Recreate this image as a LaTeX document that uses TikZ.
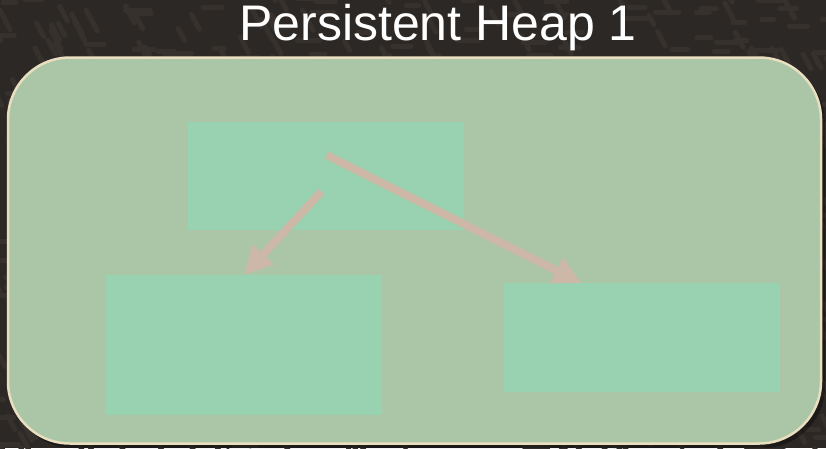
\documentclass[tikz,border=0pt]{standalone}
\usepackage{fontspec}
\setmainfont{Liberation Sans}
\usetikzlibrary{arrows.meta, positioning, calc}
\definecolor{slate}{HTML}{2C2825}
\definecolor{grain}{HTML}{36312D}
\definecolor{heapfill}{HTML}{ABC5A7}
\definecolor{heapedge}{HTML}{E9DFC0}
\definecolor{cellfill}{HTML}{98D2B0}
\definecolor{linkcol}{HTML}{CDB8A8}
\tikzset{
  cell/.style={fill=cellfill, minimum width=276pt, inner sep=0pt, outer sep=0pt},
  link/.style={draw=linkcol, line width=8pt, -{Triangle[length=28pt, width=27pt]}},
}

\begin{document}
\begin{tikzpicture}[x=1pt, y=-1pt]
  \fill[slate] (0,0) rectangle (826,448);
  \useasboundingbox (0,0) rectangle (826,448);
  % --- background grain ---
  \pgfmathsetseed{11}
  \foreach \i in {1,...,900} {
    \pgfmathsetmacro{\gx}{rnd*846-10}
    \pgfmathsetmacro{\gy}{rnd*468-10}
    \pgfmathsetmacro{\ga}{rnd<0.45 ? 0 : -62}
    \pgfmathsetmacro{\gl}{10+rnd*14}
    \draw[grain, line width=5pt, line cap=round] (\gx,\gy) -- ++(\ga:\gl pt);
  }
  % --- title ---
  \node[font=\fontsize{50}{56}\selectfont, text=white, anchor=base] (title) at (438,40) {Persistent Heap 1};
  % --- heap frame ---
  \fill[black, opacity=0.35, rounded corners=62pt] (11,61) rectangle (825,448);
  \node[fill=heapfill, draw=heapedge, line width=2.5pt, rounded corners=62pt,
        minimum width=813pt, minimum height=386pt, inner sep=0pt] (heap) at (414.5,250.5) {};
  % --- cells ---
  \node[cell, minimum height=108pt] (root)  at (326,176) {};
  \node[cell, minimum height=140pt] (left)  at (244,345) {};
  \node[cell, minimum height=109pt] (right) at (642,337.5) {};
  % --- pointers ---
  \coordinate (fromL) at (321.5,191.5);
  \coordinate (fromR) at (326.5,155);
  \coordinate (tipR) at ($(right.north west)!0.28!(right.north east)$);
  \draw[link] (fromL) -- (left.north);
  \draw[link] (fromR) -- (tipR);
\end{tikzpicture}
\end{document}
